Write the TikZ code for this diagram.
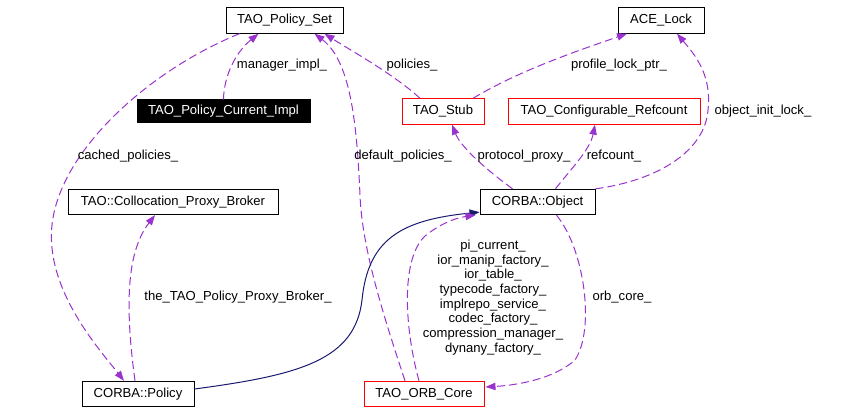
\documentclass[tikz,border=0pt]{standalone}
\usepackage{fontspec}
\setmainfont{Liberation Sans}
\usetikzlibrary{arrows.meta,calc}
\definecolor{edgepurple}{HTML}{9A32CD}
\definecolor{inhblue}{HTML}{191970}
\definecolor{boxred}{HTML}{FF0000}
\begin{document}
\begin{tikzpicture}[x=0.75pt,y=-0.75pt,
  txt/.style={font=\fontsize{9.8}{11}\selectfont},
  cls/.style={txt, draw=black, line width=0.75pt, inner sep=0pt, minimum height=19pt, anchor=center},
  redcls/.style={cls, draw=boxred},
  blackcls/.style={cls, fill=black, text=white, minimum height=17.25pt},
  lbl/.style={txt, inner sep=0pt, anchor=center},
  dep/.style={draw=edgepurple, line width=0.75pt, dash pattern=on 6pt off 3pt, -{Triangle[length=7.5pt,width=5.5pt]}},
  inh/.style={draw=inhblue, line width=0.75pt, -{Triangle[length=7.5pt,width=5.5pt]}}]
\useasboundingbox (0,0) rectangle (851,413);
% nodes
\node[cls, minimum width=87.75pt] (PS) at (284.5,20.5) {TAO\_Policy\_Set};
\node[cls, minimum width=64.5pt] (AL) at (661,20.5) {ACE\_Lock};
\node[blackcls, minimum width=129.75pt] (CI) at (223.5,111.5) {TAO\_Policy\_Current\_Impl};
\node[redcls, minimum width=61.5pt] (ST) at (443,111.5) {TAO\_Stub};
\node[redcls, minimum width=144pt] (CR) at (604,111.5) {TAO\_Configurable\_Refcount};
\node[cls, minimum width=157.5pt] (CB) at (173,202) {TAO::Collocation\_Proxy\_Broker};
\node[cls, minimum width=86.25pt] (CO) at (537.5,202) {CORBA::Object};
\node[cls, minimum width=84pt] (CP) at (138,394) {CORBA::Policy};
\node[redcls, minimum width=90pt] (OC) at (424,394) {TAO\_ORB\_Core};
% edges
\draw[dep] (CI.north) .. controls (224,75) and (236,52) .. ($(PS.south)+(-26,0)$);
\draw[dep] ($(ST.north)+(-23,0)$) .. controls (395,75) and (350,50) .. ($(PS.south)+(40,0)$);
\draw[dep] ($(OC.north)+(-19,0)$) .. controls (385,320) and (362,250) .. (360,195)
  .. controls (357,130) and (352,62) .. ($(PS.south)+(30,0)$);
\draw[dep] ($(PS.south)+(-45,0)$) .. controls (150,70) and (60,150) .. (52,225)
  .. controls (45,290) and (100,350) .. ($(CP.north)+(-14,0)$);
\draw[dep] ($(CP.north)+(-3,0)$) .. controls (124,300) and (128,250) .. ($(CB.south)+(-18,0)$);
\draw[dep] ($(ST.north)+(30,0)$) .. controls (520,70) and (580,50) .. ($(AL.south)+(-34,0)$);
\draw[dep] (CO.north east) .. controls (660,180) and (705,150) .. (708,110)
  .. controls (712,75) and (695,55) .. ($(AL.south)+(16,0)$);
\draw[dep] ($(CO.north)+(-25,0)$) .. controls (480,165) and (460,145) .. ($(ST.south)+(9,0)$);
\draw[dep] ($(CO.north)+(18,0)$) .. controls (570,170) and (590,150) .. ($(CR.south)+(-9,0)$);
\draw[inh] ($(CP.east)+(0,-5)$) .. controls (300,375) and (355,360) .. (362,300)
  .. controls (368,240) and (400,220) .. ($(CO.south west)+(0,-3)$);
\draw[dep] ($(OC.north)+(-5,0)$) .. controls (405,330) and (400,260) .. (425,236)
  .. controls (440,224) and (455,218) .. ($(CO.south west)+(-4,0)$);
\draw[dep] ($(CO.south)+(19,0)$) .. controls (585,250) and (595,330) .. (575,360)
  .. controls (555,378) and (520,385) .. ($(OC.east)+(1,-7)$);
% labels
\node[lbl] (l1) at (282,65) {manager\_impl\_};
\node[lbl] (l2) at (412,65) {policies\_};
\node[lbl] (l3) at (619,65) {profile\_lock\_ptr\_};
\node[lbl] (l4) at (763,111) {object\_init\_lock\_};
\node[lbl] (l5) at (128,156) {cached\_policies\_};
\node[lbl] (l6) at (403,156) {default\_policies\_};
\node[lbl] (l7) at (524,156) {protocol\_proxy\_};
\node[lbl] (l8) at (614,156) {refcount\_};
\node[lbl] (l9) at (238,297) {the\_TAO\_Policy\_Proxy\_Broker\_};
\node[lbl] (l10) at (622,297) {orb\_core\_};
\node[lbl, align=center] (l11) at (493,297.5) {pi\_current\_\\ior\_manip\_factory\_\\ior\_table\_\\typecode\_factory\_\\implrepo\_service\_\\codec\_factory\_\\compression\_manager\_\\dynany\_factory\_};
\end{tikzpicture}
\end{document}
